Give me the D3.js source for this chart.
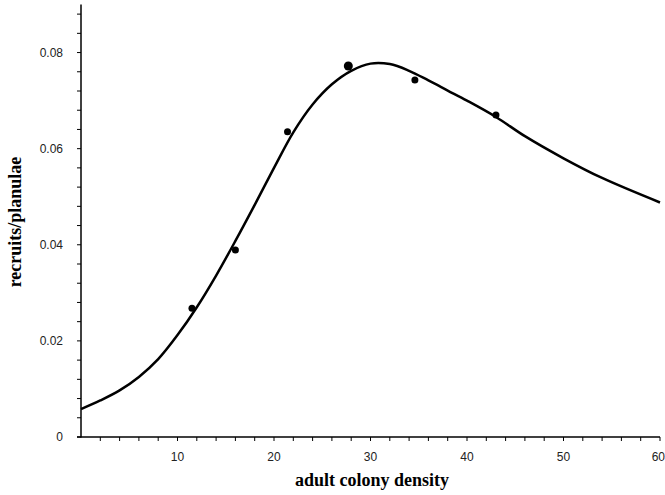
<!DOCTYPE html>
<html>
<head>
<meta charset="utf-8">
<script src="https://cdn.jsdelivr.net/npm/d3@7"></script>
<style>
  body { margin: 0; background: #fff; }
  svg { display: block; }
</style>
</head>
<body>
<script>
// observed points
var pointX = [11.5, 16.0, 21.4, 27.7, 34.6, 43.0];
var pointY = [0.0268, 0.0389, 0.0635, 0.0772, 0.0743, 0.0670];

// fitted curve
var curveX = [0, 2, 4, 6, 8, 10, 12, 14, 16, 18, 20, 22, 24, 26, 28, 30, 32, 34, 36, 38, 40, 43, 46, 50, 54, 60];
var curveY = [0.0058, 0.0076, 0.0097, 0.0125, 0.0162, 0.0212, 0.0270, 0.0336, 0.0408, 0.0483, 0.0560, 0.0634,
              0.0692, 0.0734, 0.0762, 0.0777, 0.0776, 0.0762, 0.0742, 0.0721, 0.0700, 0.0666, 0.0626, 0.0580, 0.0539, 0.0488];

var xTicks = [10, 20, 30, 40, 50, 60];
var yTicks = [0, 0.02, 0.04, 0.06, 0.08];
var yTickLabels = ['0', '0.02', '0.04', '0.06', '0.08'];

var width = 665, height = 495;
var x = d3.scaleLinear().domain([0, 60]).range([81, 660]);
var y = d3.scaleLinear().domain([0, 0.09]).range([437, 4.5]);

var svg = d3.select('body').append('svg')
  .attr('width', width)
  .attr('height', height);

// x axis
var xAxis = svg.append('g').attr('transform', 'translate(0,437)');
xAxis.append('line')
  .attr('x1', 77).attr('x2', x(60))
  .attr('stroke', '#000').attr('stroke-width', 1.5);
xAxis.selectAll('.xminor').data(d3.range(2, 61, 2)).enter().append('line')
  .attr('x1', function (d) { return x(d); })
  .attr('x2', function (d) { return x(d); })
  .attr('y1', 0).attr('y2', 4)
  .attr('stroke', '#000').attr('stroke-width', 1);
xAxis.selectAll('text').data(xTicks).enter().append('text')
  .attr('x', function (d) { return d === 60 ? width : x(d); })
  .attr('y', 24)
  .attr('text-anchor', function (d) { return d === 60 ? 'end' : 'middle'; })
  .attr('font-family', 'Arial, "Liberation Sans", sans-serif')
  .attr('font-size', 12)
  .attr('fill', '#222')
  .text(function (d) { return d; });

// y axis
var yAxis = svg.append('g').attr('transform', 'translate(81,0)');
yAxis.append('line')
  .attr('y1', y(0) + 0.5).attr('y2', y(0.09))
  .attr('stroke', '#000').attr('stroke-width', 1.5);
yAxis.selectAll('.yminor').data(d3.range(0, 0.0901, 0.004)).enter().append('line')
  .attr('y1', function (d) { return y(d); })
  .attr('y2', function (d) { return y(d); })
  .attr('x1', -4).attr('x2', 0)
  .attr('stroke', '#000').attr('stroke-width', 1);
yAxis.selectAll('text').data(yTicks).enter().append('text')
  .attr('x', -18)
  .attr('y', function (d) { return y(d); })
  .attr('dy', '0.36em')
  .attr('text-anchor', 'end')
  .attr('font-family', 'Arial, "Liberation Sans", sans-serif')
  .attr('font-size', 12)
  .attr('fill', '#222')
  .text(function (d, i) { return yTickLabels[i]; });

// curve
var line = d3.line()
  .x(function (d, i) { return x(curveX[i]); })
  .y(function (d) { return y(d); })
  .curve(d3.curveCatmullRom);
svg.append('path')
  .datum(curveY)
  .attr('d', line)
  .attr('fill', 'none')
  .attr('stroke', '#000')
  .attr('stroke-width', 2.5);

// points
svg.selectAll('circle').data(pointY).enter().append('circle')
  .attr('cx', function (d, i) { return x(pointX[i]); })
  .attr('cy', function (d) { return y(d); })
  .attr('r', function (d, i) { return i === 3 ? 4.5 : 3.5; })
  .attr('fill', '#000');

// titles
svg.append('text')
  .attr('x', 372).attr('y', 486)
  .attr('text-anchor', 'middle')
  .attr('font-family', '"Liberation Serif", "Times New Roman", serif')
  .attr('font-weight', 'bold')
  .attr('font-size', 18)
  .text('adult colony density');

svg.append('text')
  .attr('transform', 'translate(21,222) rotate(-90)')
  .attr('text-anchor', 'middle')
  .attr('font-family', '"Liberation Serif", "Times New Roman", serif')
  .attr('font-weight', 'bold')
  .attr('font-size', 18)
  .text('recruits/planulae');
</script>
</body>
</html>
